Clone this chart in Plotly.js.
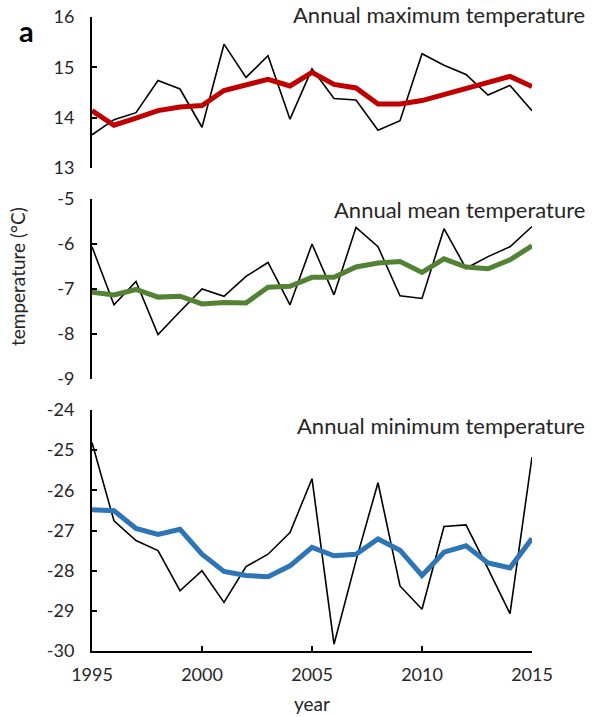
<!DOCTYPE html>
<html>
<head>
<meta charset="utf-8">
<script src="https://cdn.plot.ly/plotly-3.0.1.min.js"></script>
<style>html,body{margin:0;padding:0;background:#fff}#chart{width:592px;height:717px}</style>
</head>
<body>
<div id="chart"></div>
<script>
const years = [1995,1996,1997,1998,1999,2000,2001,2002,2003,2004,2005,2006,2007,2008,2009,2010,2011,2012,2013,2014,2015];

const maxAnnual = [13.66,13.96,14.10,14.74,14.57,13.81,15.46,14.80,15.23,13.97,14.97,14.38,14.35,13.75,13.94,15.27,15.04,14.86,14.45,14.64,14.14];
const maxSmooth = [14.14,13.85,13.99,14.14,14.21,14.24,14.54,14.65,14.76,14.63,14.90,14.66,14.59,14.27,14.27,14.34,14.46,14.58,14.68,14.82,14.62];

const meanAnnual = [-6.06,-7.35,-6.83,-8.01,-7.50,-7.00,-7.16,-6.72,-6.41,-7.35,-6.00,-7.13,-5.63,-6.06,-7.15,-7.21,-5.66,-6.54,-6.28,-6.06,-5.61];
const meanSmooth = [-7.07,-7.13,-7.01,-7.18,-7.16,-7.33,-7.30,-7.31,-6.96,-6.94,-6.74,-6.74,-6.51,-6.42,-6.39,-6.63,-6.33,-6.51,-6.55,-6.35,-6.04];

const minAnnual = [-24.81,-26.76,-27.25,-27.50,-28.50,-28.00,-28.79,-27.90,-27.59,-27.05,-25.71,-29.83,-27.75,-25.81,-28.38,-28.96,-26.90,-26.86,-27.95,-29.07,-25.17];
const minSmooth = [-26.48,-26.51,-26.95,-27.10,-26.97,-27.59,-28.02,-28.12,-28.15,-27.88,-27.42,-27.63,-27.59,-27.21,-27.49,-28.12,-27.54,-27.38,-27.81,-27.93,-27.20];

const panelTitles = ["Annual maximum temperature","Annual mean temperature","Annual minimum temperature"];
const yTickVals = [[13,14,15,16],[-9,-8,-7,-6,-5],[-30,-29,-28,-27,-26,-25,-24]];
const xTickVals = [1995,2000,2005,2010,2015];

const FONT = "Lato, 'Open Sans', sans-serif";
const TXT = "#262626";

function line(y, color, width, xa, ya){
  return {x: years, y: y, type:'scatter', mode:'lines', line:{color:color, width:width}, xaxis:xa, yaxis:ya, hoverinfo:'skip'};
}

const data = [
  line(maxAnnual,'#000000',1.6,'x','y'),
  line(maxSmooth,'#C00000',5,'x','y'),
  line(meanAnnual,'#000000',1.6,'x2','y2'),
  line(meanSmooth,'#548235',5,'x2','y2'),
  line(minAnnual,'#000000',1.6,'x3','y3'),
  line(minSmooth,'#2E75B6',5,'x3','y3')
];

function yax(domain, ticks){
  return {domain:domain, range:[ticks[0], ticks[ticks.length-1]], tickvals:ticks, ticktext:ticks.map(String),
    showline:true, linecolor:'#000', linewidth:2, ticks:'inside', ticklen:5, tickwidth:2, tickcolor:'#000',
    showgrid:false, zeroline:false, ticklabelstandoff:12,
    tickfont:{family:FONT, size:18, color:TXT}};
}
function xhidden(anchor){
  return {domain:[0,1], range:[1995,2015], visible:false, anchor:anchor};
}

const layout = {
  width:592, height:717,
  margin:{l:92, r:60, t:17, b:66},
  paper_bgcolor:'#fff', plot_bgcolor:'rgba(0,0,0,0)',
  showlegend:false,
  xaxis: xhidden('y'),
  xaxis2: xhidden('y2'),
  xaxis3: {domain:[0,1], range:[1995,2015], anchor:'y3', tickvals:xTickVals, ticktext:xTickVals.map(String),
    showline:true, linecolor:'#000', linewidth:2, ticks:'inside', ticklen:5, tickwidth:2, tickcolor:'#000',
    showgrid:false, zeroline:false, ticklabelstandoff:6,
    tickfont:{family:FONT, size:18, color:TXT}},
  yaxis: Object.assign(yax([0.7618,1], yTickVals[0]), {anchor:'x'}),
  yaxis2: Object.assign(yax([0.4290,0.7129], yTickVals[1]), {anchor:'x2'}),
  yaxis3: Object.assign(yax([0,0.3801], yTickVals[2]), {anchor:'x3'}),
  annotations:[
    {text:panelTitles[0], xref:'paper', yref:'paper', x:1.125, y:1.0047, xanchor:'right', yanchor:'middle', showarrow:false, font:{family:FONT, size:22, color:TXT}},
    {text:panelTitles[1], xref:'paper', yref:'paper', x:1.125, y:0.697, xanchor:'right', yanchor:'middle', showarrow:false, font:{family:FONT, size:22, color:TXT}},
    {text:panelTitles[2], xref:'paper', yref:'paper', x:1.125, y:0.355, xanchor:'right', yanchor:'middle', showarrow:false, font:{family:FONT, size:22, color:TXT}},
    {text:'<b>a</b>', xref:'paper', yref:'paper', x:-0.148, y:0.978, xanchor:'center', yanchor:'middle', showarrow:false, font:{family:FONT, size:29, color:'#000'}},
    {text:'temperature (°C)', xref:'paper', yref:'paper', x:-0.168, y:0.59, xanchor:'center', yanchor:'middle', textangle:-90, showarrow:false, font:{family:FONT, size:19, color:TXT}},
    {text:'year', xref:'paper', yref:'paper', x:0.5, y:-0.083, xanchor:'center', yanchor:'middle', showarrow:false, font:{family:FONT, size:19, color:TXT}}
  ]
};

Plotly.newPlot('chart', data, layout, {staticPlot:true, displayModeBar:false});
</script>
</body>
</html>
